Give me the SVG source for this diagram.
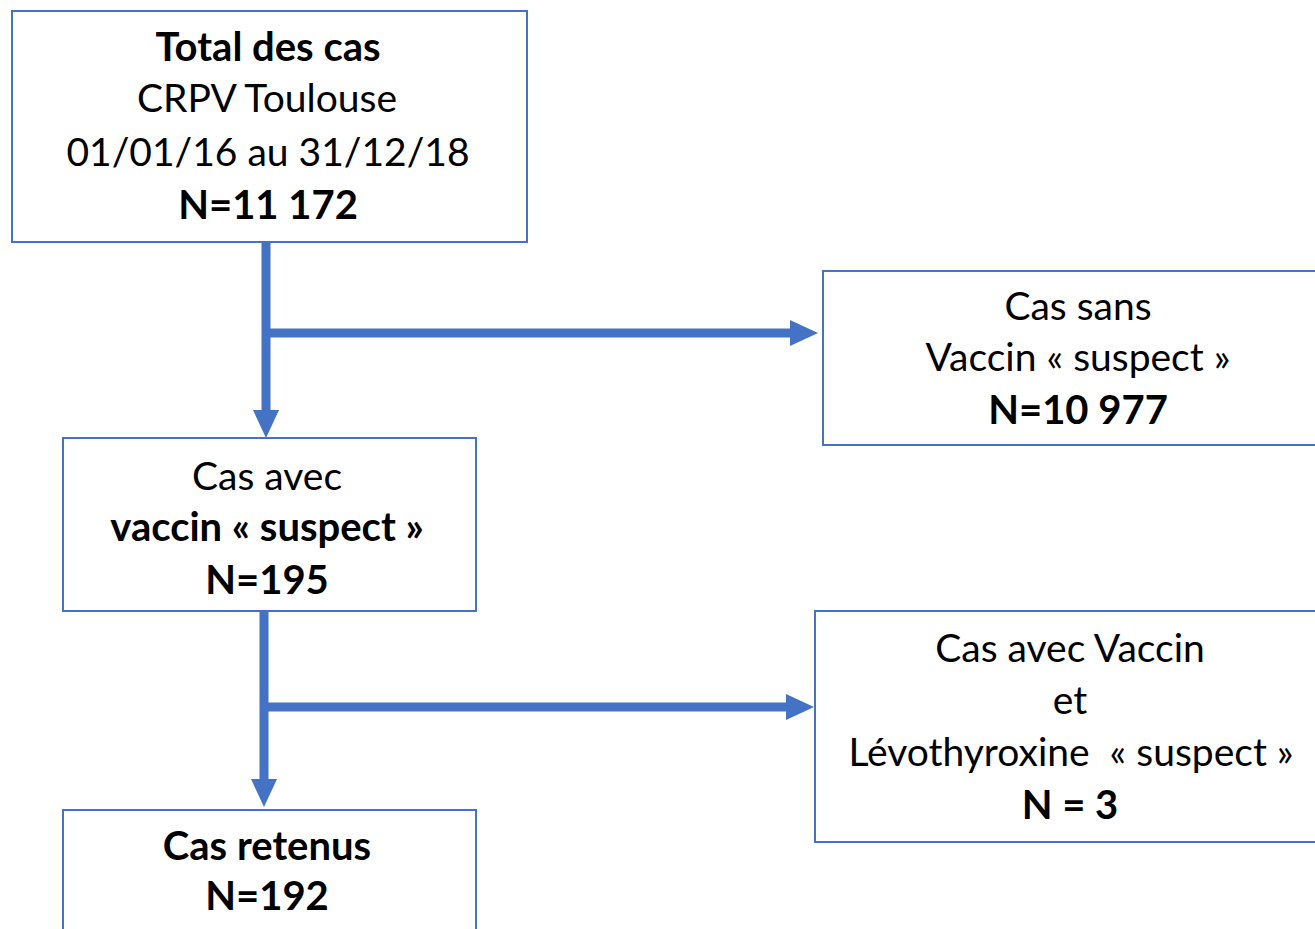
<svg xmlns="http://www.w3.org/2000/svg" width="1315" height="929" viewBox="0 0 1315 929">
<defs>
<style>
.box{fill:#fff;stroke:#4472C4;stroke-width:2}
.t{font-family:Lato,"Open Sans","Liberation Sans",sans-serif;font-size:39px;fill:#000;text-anchor:middle}
.b{font-weight:bold;font-size:40px}
.c{fill:none;stroke:#4472C4;stroke-width:9}
</style>
<marker id="ah" viewBox="0 0 28 26" refX="0" refY="13" markerWidth="28" markerHeight="26" markerUnits="userSpaceOnUse" orient="auto">
<path d="M0,0 L28,13 L0,26 z" fill="#4472C4"/>
</marker>
</defs>
<rect width="1315" height="929" fill="#fff"/>
<g id="connectors">
<path class="c" d="M266,242 V410" marker-end="url(#ah)"/>
<path class="c" d="M262,333 H790" marker-end="url(#ah)"/>
<path class="c" d="M264,611 V779" marker-end="url(#ah)"/>
<path class="c" d="M260,707 H786" marker-end="url(#ah)"/>
</g>
<g id="total">
<rect class="box" x="12" y="11" width="515" height="231"/>
<text class="t b" x="268" y="61">Total des cas</text>
<text class="t" x="267" y="112">CRPV Toulouse</text>
<text class="t" x="268" y="166">01/01/16 au 31/12/18</text>
<text class="t b" x="268" y="219">N=11 172</text>
</g>
<g id="sans">
<rect class="box" x="823" y="271" width="510" height="174"/>
<text class="t" x="1078" y="320">Cas sans</text>
<text class="t" x="1078" y="371">Vaccin « suspect »</text>
<text class="t b" x="1078" y="424">N=10 977</text>
</g>
<g id="avec">
<rect class="box" x="63" y="438" width="413" height="173"/>
<text class="t" x="267" y="490">Cas avec</text>
<text class="t b" x="267" y="541">vaccin « suspect »</text>
<text class="t b" x="267" y="594">N=195</text>
</g>
<g id="levo">
<rect class="box" x="815" y="611" width="515" height="231"/>
<text class="t" x="1070" y="662">Cas avec Vaccin</text>
<text class="t" x="1070" y="714">et</text>
<text class="t" x="1071" y="766" xml:space="preserve">Lévothyroxine  « suspect »</text>
<text class="t b" x="1070" y="819">N = 3</text>
</g>
<g id="retenus">
<rect class="box" x="63" y="810" width="413" height="140"/>
<text class="t b" x="267" y="860">Cas retenus</text>
<text class="t b" x="267" y="910">N=192</text>
</g>
</svg>
